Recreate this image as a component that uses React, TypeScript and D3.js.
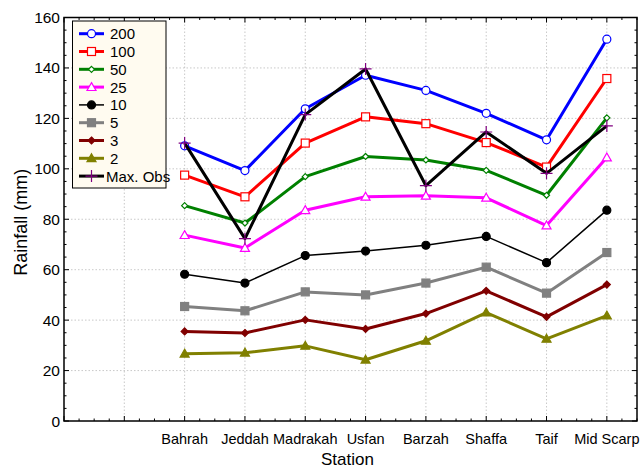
import * as d3 from 'd3';
import * as React from 'react';

// stations sit at x = 3..10 on a linear axis that starts at 1
const stations = ['Bahrah', 'Jeddah', 'Madrakah', 'Usfan', 'Barzah', 'Shaffa', 'Taif', 'Mid Scarp'];
const stationPos = [3, 4, 5, 6, 7, 8, 9, 10];

const rp200 = [109.1, 99.3, 123.8, 137.1, 131.1, 122.0, 111.5, 151.4];
const rp100 = [97.5, 88.9, 110.2, 120.6, 117.9, 110.4, 100.7, 135.8];
const rp50 = [85.4, 78.5, 96.9, 104.9, 103.5, 99.4, 89.5, 120.2];
const rp25 = [73.7, 68.6, 83.6, 88.9, 89.3, 88.5, 77.5, 104.5];
const rp10 = [58.2, 54.7, 65.6, 67.4, 69.7, 73.2, 62.8, 83.6];
const rp5 = [45.4, 43.7, 51.2, 50.0, 54.7, 61.0, 50.7, 66.8];
const rp3 = [35.5, 34.9, 40.1, 36.5, 42.6, 51.6, 41.3, 54.1];
const rp2 = [26.7, 27.1, 29.8, 24.3, 31.8, 43.0, 32.6, 41.8];
const maxObs = [110.2, 72.3, 121.5, 139.6, 93.3, 114.6, 98.2, 117.0];

const yTicks = [0, 20, 40, 60, 80, 100, 120, 140, 160];

type Marker = 'circle' | 'square' | 'diamond' | 'triangle' | 'plus';

interface ISeries {
  name: string;
  values: number[];
  color: string;
  width: number;
  marker: Marker;
  filled: boolean;
  size: number;
}

const series: ISeries[] = [
  { name: '200', values: rp200, color: '#0000ff', width: 3, marker: 'circle', filled: false, size: 4 },
  { name: '100', values: rp100, color: '#ff0000', width: 3, marker: 'square', filled: false, size: 4 },
  { name: '50', values: rp50, color: '#008000', width: 3, marker: 'diamond', filled: false, size: 3 },
  { name: '25', values: rp25, color: '#ff00ff', width: 3, marker: 'triangle', filled: false, size: 4.5 },
  { name: '10', values: rp10, color: '#000000', width: 1.5, marker: 'circle', filled: true, size: 4 },
  { name: '5', values: rp5, color: '#808080', width: 3, marker: 'square', filled: true, size: 4 },
  { name: '3', values: rp3, color: '#800000', width: 3, marker: 'diamond', filled: true, size: 3.5 },
  { name: '2', values: rp2, color: '#808000', width: 3, marker: 'triangle', filled: true, size: 4.5 },
  { name: 'Max. Obs', values: maxObs, color: '#000000', width: 3, marker: 'plus', filled: false, size: 6 },
];

const W = 644;
const H = 469;
const left = 64;
const right = 637;
const top = 17.5;
const bottom = 421;
const font = '"Liberation Sans", Arial, Helvetica, sans-serif';

function drawMarker(s: ISeries, cx: number, cy: number, key: string): JSX.Element {
  const r = s.size;
  const fill = s.filled ? s.color : '#ffffff';
  const sw = 1.2;
  switch (s.marker) {
    case 'circle':
      return <circle key={key} cx={cx} cy={cy} r={r} fill={fill} stroke={s.color} strokeWidth={sw} />;
    case 'square':
      return <rect key={key} x={cx - r} y={cy - r} width={2 * r} height={2 * r} fill={fill} stroke={s.color} strokeWidth={sw} />;
    case 'diamond':
      return (
        <path key={key} d={`M${cx},${cy - r}L${cx + r},${cy}L${cx},${cy + r}L${cx - r},${cy}Z`}
          fill={fill} stroke={s.color} strokeWidth={sw} />
      );
    case 'triangle':
      return (
        <path key={key} d={`M${cx},${cy - r}L${cx + r},${cy + r * 0.75}L${cx - r},${cy + r * 0.75}Z`}
          fill={fill} stroke={s.color} strokeWidth={sw} />
      );
    default:
      return (
        <path key={key} d={`M${cx - r},${cy}H${cx + r}M${cx},${cy - r}V${cy + r}`}
          fill='none' stroke='#800080' strokeWidth={1.2} />
      );
  }
}

export default function App(): JSX.Element {
  const x = d3.scaleLinear().domain([1, 10.5]).range([left, right]);
  const y = d3.scaleLinear().domain([0, 160]).range([bottom, top]);

  const line = d3.line<number>()
    .x((d, i) => x(stationPos[i]))
    .y((d) => y(d));

  const xMajor = d3.range(1, 11);
  const xMinor = d3.range(1, 10.5001, 0.25).filter((v) => !Number.isInteger(v));
  const yMinor = d3.range(0, 160.001, 5).filter((v) => v % 20 !== 0);

  const legX = 72.5;
  const legY = 21;
  const rowH = 17.8;

  return (
    <svg width={W} height={H} style={{ position: 'absolute', left: 0, top: 0, background: '#fff' }}>
      {/* grid */}
      <g stroke='#bbbbbb' strokeWidth={0.8} strokeDasharray='1.5,2'>
        {xMajor.slice(1).map((v) => (
          <line key={'gx' + v} x1={x(v)} x2={x(v)} y1={top} y2={bottom} />
        ))}
        {yTicks.slice(1, -1).map((v) => (
          <line key={'gy' + v} x1={left} x2={right} y1={y(v)} y2={y(v)} />
        ))}
      </g>

      {/* ticks on all four sides, inward */}
      <g stroke='#000' strokeWidth={1}>
        {xMajor.map((v) => (
          <g key={'tx' + v}>
            <line x1={x(v)} x2={x(v)} y1={bottom} y2={bottom - 5} />
            <line x1={x(v)} x2={x(v)} y1={top} y2={top + 5} />
          </g>
        ))}
        {xMinor.map((v) => (
          <g key={'mx' + v}>
            <line x1={x(v)} x2={x(v)} y1={bottom} y2={bottom - 2.5} />
            <line x1={x(v)} x2={x(v)} y1={top} y2={top + 2.5} />
          </g>
        ))}
        {yTicks.map((v) => (
          <g key={'ty' + v}>
            <line x1={left} x2={left + 5} y1={y(v)} y2={y(v)} />
            <line x1={right} x2={right - 5} y1={y(v)} y2={y(v)} />
          </g>
        ))}
        {yMinor.map((v) => (
          <g key={'my' + v}>
            <line x1={left} x2={left + 2.5} y1={y(v)} y2={y(v)} />
            <line x1={right} x2={right - 2.5} y1={y(v)} y2={y(v)} />
          </g>
        ))}
      </g>

      {/* series */}
      {series.map((s) => (
        <g key={s.name}>
          <path d={line(s.values) || ''} fill='none' stroke={s.color} strokeWidth={s.width} strokeLinejoin='round' />
          {s.values.map((v, i) => drawMarker(s, x(stationPos[i]), y(v), s.name + i))}
        </g>
      ))}

      {/* box */}
      <rect x={left} y={top} width={right - left} height={bottom - top} fill='none' stroke='#000' strokeWidth={1.5} />

      {/* tick labels */}
      <g fontFamily={font} fill='#000'>
        {yTicks.map((v) => (
          <text key={'ly' + v} x={left - 4} y={y(v) + 5.5} textAnchor='end' fontSize={15.5}>{v}</text>
        ))}
        {stations.map((name, i) => (
          <text key={'lx' + name} x={x(stationPos[i])} y={443.5} textAnchor='middle' fontSize={14.5}>{name}</text>
        ))}
      </g>

      <text x={(left + right) / 2 - 3} y={465} textAnchor='middle' fontFamily={font} fontSize={17}>Station</text>
      <text transform={`translate(27,${(top + bottom) / 2 + 3}) rotate(-90)`} textAnchor='middle' fontFamily={font} fontSize={18}>
        Rainfall (mm)
      </text>

      {/* legend */}
      <rect x={legX} y={legY} width={93.5} height={167} fill='#fffbf0' stroke='#000' strokeWidth={1} />
      {series.map((s, i) => {
        const cy = legY + 12.7 + i * rowH;
        return (
          <g key={'leg' + s.name}>
            <line x1={legX + 6.5} x2={legX + 31.5} y1={cy} y2={cy} stroke={s.color} strokeWidth={s.width} />
            {drawMarker(s, legX + 19, cy, 'lm' + s.name)}
            <text x={s.name === 'Max. Obs' ? legX + 33.5 : legX + 37.5} y={cy + 5.5} fontFamily={font} fontSize={15}>{s.name}</text>
          </g>
        );
      })}
    </svg>
  );
}
